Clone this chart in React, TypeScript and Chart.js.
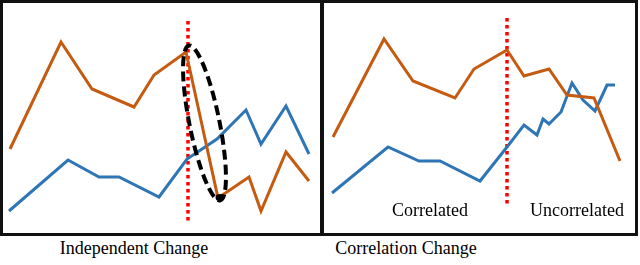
import React, { useEffect, useRef } from "react";
import { Chart, registerables } from "chart.js";

Chart.register(...registerables);

// Left panel: "Independent Change"
const leftOrangeX = [1.0, 6.1, 9.2, 13.4, 15.4, 18.6, 21.8, 24.9, 26.1, 28.6, 30.9];
const leftOrangeY = [8.7, 19.4, 14.7, 12.9, 16.1, 18.4, 3.8, 5.9, 2.5, 8.4, 5.5];
const leftBlueX = [0.9, 6.8, 9.9, 11.9, 15.9, 18.7, 21.7, 24.6, 26.1, 28.6, 30.9];
const leftBlueY = [2.5, 7.6, 5.9, 5.9, 3.9, 7.7, 9.7, 12.6, 9.2, 13.0, 8.2];
const leftChangeX = 18.8;
const leftChangeY = [21.5, 1.3];

// Right panel: "Correlation Change"
const rightOrangeX = [1.3, 6.4, 9.3, 13.5, 15.4, 18.7, 20.4, 22.9, 24.7, 27.4, 30.0];
const rightOrangeY = [9.9, 19.7, 15.5, 13.8, 16.7, 18.6, 16.0, 16.7, 14.1, 13.8, 7.5];
const rightBlueX = [1.2, 6.8, 9.9, 12.0, 16.0, 18.7, 20.4, 21.7, 22.3, 22.9, 24.1, 25.2, 26.3, 27.5, 28.7, 29.5];
const rightBlueY = [4.3, 8.9, 7.5, 7.5, 5.5, 8.9, 11.1, 10.1, 11.7, 11.2, 12.4, 15.3, 13.6, 12.5, 15.1, 15.1];
const rightChangeX = 18.7;
const rightChangeY = [21.8, 2.9];

// Anomaly ellipse (left panel), data units
const ellipseCenter = [20.45, 11.3];
const ellipseRadii = [1.5, 7.9];
const ellipseTiltDeg = -11.4;
const anomalyPoint = [22.0, 3.85];

const X_RANGE = [0, 32];
const Y_RANGE = [0, 23.6];

const ORANGE = "#c55a11";
const BLUE = "#2e75b6";
const RED = "#ff0000";

function pts(xs: number[], ys: number[]) {
  return xs.map((x, i) => ({ x, y: ys[i] }));
}

function makeConfig(
  ox: number[], oy: number[], bx: number[], by: number[], cx: number, cy: number[], withEllipse: boolean
): any {
  const plugins: any[] = [];
  if (withEllipse) {
    plugins.push({
      id: "ellipse",
      afterDatasetsDraw(chart: any) {
        const { ctx, scales } = chart;
        const xs = scales.x, ys = scales.y;
        const px = xs.getPixelForValue(ellipseCenter[0]);
        const py = ys.getPixelForValue(ellipseCenter[1]);
        const rx = Math.abs(xs.getPixelForValue(ellipseRadii[0]) - xs.getPixelForValue(0));
        const ry = Math.abs(ys.getPixelForValue(ellipseRadii[1]) - ys.getPixelForValue(0));
        ctx.save();
        ctx.strokeStyle = "#000";
        ctx.lineWidth = 4;
        ctx.setLineDash([10, 5]);
        ctx.beginPath();
        ctx.ellipse(px, py, rx, ry, (ellipseTiltDeg * Math.PI) / 180, 0, Math.PI * 2);
        ctx.stroke();
        ctx.setLineDash([]);
        ctx.fillStyle = "#000";
        ctx.beginPath();
        ctx.ellipse(
          xs.getPixelForValue(anomalyPoint[0]),
          ys.getPixelForValue(anomalyPoint[1]),
          4.5, 3.5, 0, 0, Math.PI * 2
        );
        ctx.fill();
        ctx.restore();
      },
    });
  }
  return {
    type: "line",
    data: {
      datasets: [
        {
          data: pts(ox, oy), borderColor: ORANGE, borderWidth: 3, pointRadius: 0,
          tension: 0, fill: false, borderJoinStyle: "miter",
        },
        {
          data: pts(bx, by), borderColor: BLUE, borderWidth: 3, pointRadius: 0,
          tension: 0, fill: false, borderJoinStyle: "miter",
        },
        {
          data: pts([cx, cx], cy), borderColor: RED, borderWidth: 3.5, pointRadius: 0,
          borderDash: [3.5, 3.5], borderCapStyle: "butt", fill: false,
        },
      ],
    },
    options: {
      animation: false,
      responsive: false,
      maintainAspectRatio: false,
      devicePixelRatio: 1,
      layout: { padding: 0 },
      plugins: { legend: { display: false }, tooltip: { enabled: false }, title: { display: false } },
      events: [],
      scales: {
        x: { type: "linear", min: X_RANGE[0], max: X_RANGE[1], display: false },
        y: { type: "linear", min: Y_RANGE[0], max: Y_RANGE[1], display: false },
      },
    },
    plugins,
  };
}

function Panel(props: { left: number; cfg: () => any }) {
  const ref = useRef<HTMLCanvasElement>(null);
  useEffect(() => {
    if (!ref.current) return;
    const chart = new Chart(ref.current, props.cfg());
    return () => chart.destroy();
  }, []);
  return (
    <canvas
      ref={ref}
      width={320}
      height={236}
      style={{ position: "absolute", left: props.left, top: 0, width: 320, height: 236 }}
    />
  );
}

const textStyle: React.CSSProperties = {
  position: "absolute",
  fontFamily: "'Liberation Serif', 'Times New Roman', serif",
  fontSize: 18,
  color: "#000",
  whiteSpace: "nowrap",
  transform: "translateX(-50%)",
  lineHeight: "20px",
};

export default function App() {
  return (
    <div style={{ position: "fixed", left: 0, top: 0, width: 640, height: 265, background: "#fff", overflow: "hidden" }}>
      <Panel left={0} cfg={() => makeConfig(leftOrangeX, leftOrangeY, leftBlueX, leftBlueY, leftChangeX, leftChangeY, true)} />
      <Panel left={320} cfg={() => makeConfig(rightOrangeX, rightOrangeY, rightBlueX, rightBlueY, rightChangeX, rightChangeY, false)} />
      <div style={{ position: "absolute", left: 0, top: 0, width: 638, height: 236, boxSizing: "border-box", border: "3.5px solid #111" }} />
      <div style={{ position: "absolute", left: 320, top: 0, width: 3.5, height: 236, background: "#111" }} />
      <div style={{ ...textStyle, left: 430, top: 200 }}>Correlated</div>
      <div style={{ ...textStyle, left: 577, top: 200 }}>Uncorrelated</div>
      <div style={{ ...textStyle, left: 134, top: 238 }}>Independent Change</div>
      <div style={{ ...textStyle, left: 406, top: 238 }}>Correlation Change</div>
    </div>
  );
}
